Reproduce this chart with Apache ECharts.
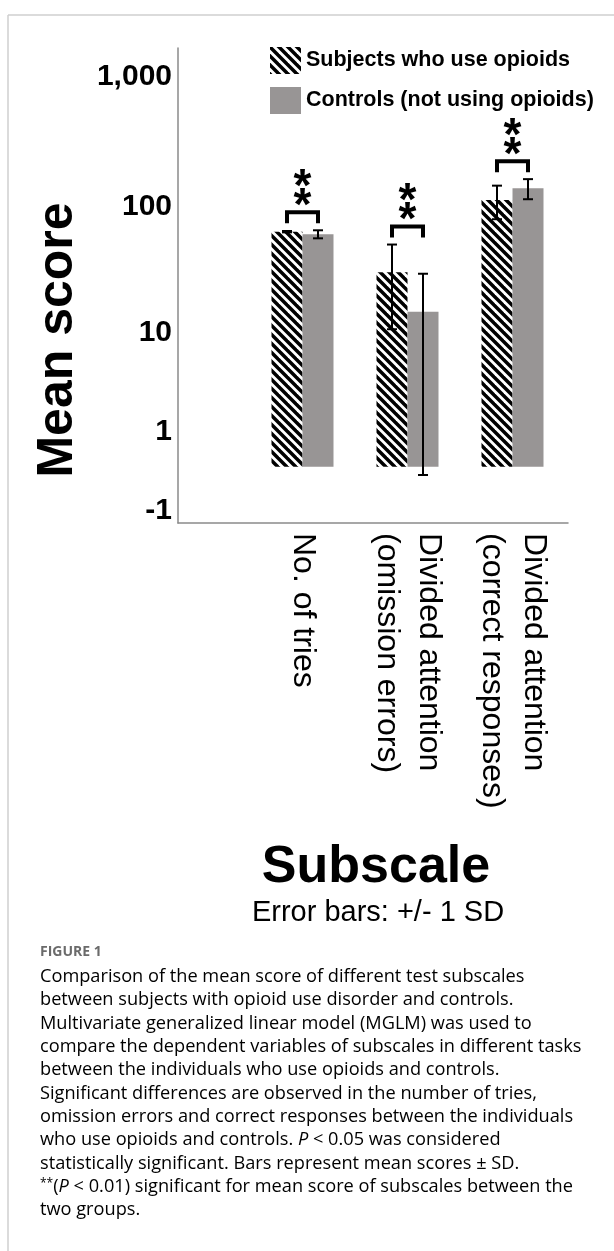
<!DOCTYPE html>
<html><head><meta charset="utf-8">
<script src="https://cdn.jsdelivr.net/npm/echarts@6/dist/echarts.min.js"></script>
<style>html,body{margin:0;padding:0;background:#fff}#c{width:614px;height:1251px}</style>
</head><body><div id="c"></div>
<script>
// ---------------- data ----------------
const categories = ['No. of tries', 'Divided attention\n(omission errors)', 'Divided attention\n(correct responses)'];
const seriesNames = ['Subjects who use opioids', 'Controls (not using opioids)'];
const opioidMeans = [63.8, 30.6, 112.6];
const opioidSD = [0.8, 20, 32.8];
const controlMeans = [61, 14.8, 138.7];
const controlSD = [4.4, 15, 24.6];
const significance = ['**', '**', '**'];
const tickValues = [-1, 1, 10, 100, 1000];
const tickLabels = ['-1', '1', '10', '100', '1,000'];
const yTitle = 'Mean score';
const xTitle = 'Subscale';
const errorNote = 'Error bars: +/- 1 SD';
const figureLabel = 'FIGURE 1';
const captionLines = [
  '{r|Comparison of the mean score of different test subscales}',
  '{r|between subjects with opioid use disorder and controls.}',
  '{r|Multivariate generalized linear model (MGLM) was used to}',
  '{r|compare the dependent variables of subscales in different tasks}',
  '{r|between the individuals who use opioids and controls.}',
  '{r|Significant differences are observed in the number of tries,}',
  '{r|omission errors and correct responses between the individuals}',
  '{r|who use opioids and controls. }{i|P}{r| < 0.05 was considered}',
  '{r|statistically significant. Bars represent mean scores ± SD.}',
  '{s|**}{r|(}{i|P}{r| < 0.01) significant for mean score of subscales between the}',
  '{r|two groups.}'
];

// ---------------- scale (SPSS-like shifted log) ----------------
const SHIFT = 0.85, DEC = 129.8;
function toU(v) {
  const u1 = Math.log10(1 + SHIFT);
  if (v >= 1) return Math.log10(v + SHIFT);
  if (v >= 0) return u1 - (1 - v) * 34 / DEC;
  return u1 - 34 / DEC + v * 45 / DEC;
}
const Y_MIN = toU(-1) - 12 / DEC;
const Y_MAX = toU(1) + 384 / DEC;
const tickU = tickValues.map(toU);

const FONT = "'Liberation Sans', Arial, Helvetica, sans-serif";
const CAP_FONT = '"Open Sans", sans-serif';
const GREY = '#989595';
const BAR_W = 31;

function hatchCanvas() {
  const s = 9, cv = document.createElement('canvas');
  cv.width = s; cv.height = s;
  const g = cv.getContext('2d');
  g.fillStyle = '#fff'; g.fillRect(0, 0, s, s);
  g.strokeStyle = '#000'; g.lineWidth = 3.5;
  for (const k of [-s, 0, s]) { g.beginPath(); g.moveTo(k - 2, -2); g.lineTo(k + s + 2, s + 2); g.stroke(); }
  return cv;
}
const HATCH = { image: hatchCanvas(), repeat: 'repeat' };

function errSeries(means, sds, side) {
  return {
    type: 'custom', xAxisIndex: 1, yAxisIndex: 1, silent: true, z: 5,
    encode: { x: 0, y: [1, 2] },
    data: means.map((m, i) => [i, toU(m + sds[i]), toU(m - sds[i])]),
    renderItem(params, api) {
      const hi = api.coord([api.value(0), api.value(1)]);
      const lo = api.coord([api.value(0), api.value(2)]);
      const x = hi[0] + side * BAR_W / 2;
      const st = { stroke: '#000', lineWidth: 2 };
      return { type: 'group', children: [
        { type: 'line', shape: { x1: x, y1: hi[1], x2: x, y2: lo[1] }, style: st },
        { type: 'line', shape: { x1: x - 5, y1: hi[1], x2: x + 5, y2: hi[1] }, style: st },
        { type: 'line', shape: { x1: x - 5, y1: lo[1], x2: x + 5, y2: lo[1] }, style: st }
      ] };
    }
  };
}

const sigSeries = {
  type: 'custom', xAxisIndex: 1, yAxisIndex: 1, silent: true, z: 6,
  encode: { x: 0, y: 1 },
  data: categories.map((c, i) => [i, toU(Math.max(opioidMeans[i] + opioidSD[i], controlMeans[i] + controlSD[i]))]),
  renderItem(params, api) {
    const i = api.value(0);
    const p = api.coord([i, api.value(1)]);
    const xL = p[0] - BAR_W / 2, xR = p[0] + BAR_W / 2;
    const yLeg = p[1] - 7, yLine = p[1] - 18;
    const stars = significance[i].split('');
    const kids = [{ type: 'polyline', shape: { points: [[xL, yLeg], [xL, yLine], [xR, yLine], [xR, yLeg]] },
      style: { stroke: '#000', lineWidth: 4, fill: null, lineJoin: 'miter', lineCap: 'butt' } }];
    stars.forEach((s, k) => {
      kids.push({ type: 'text', x: p[0], y: yLine - 15 - (stars.length - 1 - k) * 19 + 10,
        style: { text: s, font: 'bold 46px ' + FONT, fill: '#000', textAlign: 'center', textVerticalAlign: 'middle' } });
    });
    return { type: 'group', children: kids };
  }
};

const chart = echarts.init(document.getElementById('c'), null, { renderer: 'canvas' });
chart.setOption({
  animation: false,
  backgroundColor: '#fff',
  textStyle: { fontFamily: FONT },
  legend: {
    orient: 'vertical', left: 265, top: 42, itemWidth: 31, itemHeight: 27, itemGap: 13,
    icon: 'rect', selectedMode: false, data: seriesNames,
    textStyle: { fontSize: 21.5, fontWeight: 'bold', color: '#000', fontFamily: FONT }
  },
  grid: [
    { left: 178, right: 46, top: 48, bottom: 728 },
    { left: 250, width: 315, top: 48, bottom: 728 }
  ],
  xAxis: [
    { gridIndex: 0, type: 'value', min: 0, max: 1, axisLine: { show: true, onZero: false, lineStyle: { color: '#8a8a8a', width: 1.5 } },
      axisTick: { show: false }, axisLabel: { show: false }, splitLine: { show: false } },
    { gridIndex: 1, type: 'category', data: categories, axisLine: { show: false }, axisTick: { show: false },
      axisLabel: { rotate: -90, interval: 0, fontSize: 32, lineHeight: 42, margin: 10, color: '#000', fontFamily: FONT } }
  ],
  yAxis: [
    { gridIndex: 0, type: 'value', min: Y_MIN, max: Y_MAX,
      axisLine: { show: true, onZero: false, lineStyle: { color: '#8a8a8a', width: 1.5 } },
      axisTick: { show: false }, splitLine: { show: false },
      axisLabel: { customValues: tickU, margin: 6, fontSize: 30, fontWeight: 'bold', color: '#000', fontFamily: FONT,
        formatter: (v) => { let b = 0; tickU.forEach((t, k) => { if (Math.abs(t - v) < Math.abs(tickU[b] - v)) b = k; }); return tickLabels[b]; } } },
    { gridIndex: 1, type: 'value', min: Y_MIN, max: Y_MAX, show: false, splitLine: { show: false } }
  ],
  series: [
    { name: seriesNames[0], type: 'bar', xAxisIndex: 1, yAxisIndex: 1, barWidth: BAR_W, barGap: '0%',
      itemStyle: { color: HATCH }, data: opioidMeans.map(toU) },
    { name: seriesNames[1], type: 'bar', xAxisIndex: 1, yAxisIndex: 1, barWidth: BAR_W, barGap: '0%',
      itemStyle: { color: GREY }, data: controlMeans.map(toU) },
    errSeries(opioidMeans, opioidSD, -1),
    errSeries(controlMeans, controlSD, 1),
    sigSeries
  ],
  graphic: [
    { type: 'line', shape: { x1: 8, y1: 15, x2: 614, y2: 15 }, style: { stroke: '#cfcfcf', lineWidth: 1.5 } },
    { type: 'line', shape: { x1: 8, y1: 15, x2: 8, y2: 1251 }, style: { stroke: '#cfcfcf', lineWidth: 1.5 } },
    { type: 'text', x: 58, y: 340, rotation: Math.PI / 2,
      style: { text: yTitle, font: 'bold 50px ' + FONT, fill: '#000', textAlign: 'center', textVerticalAlign: 'middle' } },
    { type: 'text', x: 376, y: 868,
      style: { text: xTitle, font: 'bold 52px ' + FONT, fill: '#000', textAlign: 'center', textVerticalAlign: 'middle' } },
    { type: 'text', x: 378, y: 913,
      style: { text: errorNote, font: '29px ' + FONT, fill: '#000', textAlign: 'center', textVerticalAlign: 'middle' } },
    { type: 'text', x: 40, y: 952,
      style: { text: figureLabel, font: 'bold 14px ' + CAP_FONT, fill: '#6b6b6b', textAlign: 'left', textVerticalAlign: 'middle' } }
  ].concat(captionLines.map((t, k) => ({
    type: 'text', x: 40, y: 977 + k * 23.3,
    style: { text: t, textAlign: 'left', textVerticalAlign: 'middle',
      rich: {
        r: { fontFamily: CAP_FONT, fontSize: 18.2, color: '#6a6a6a' },
        i: { fontFamily: CAP_FONT, fontSize: 18.2, color: '#6a6a6a', fontStyle: 'italic' },
        s: { fontFamily: CAP_FONT, fontSize: 12, color: '#6a6a6a', verticalAlign: 'top' }
      } }
  })))
});
</script></body></html>
